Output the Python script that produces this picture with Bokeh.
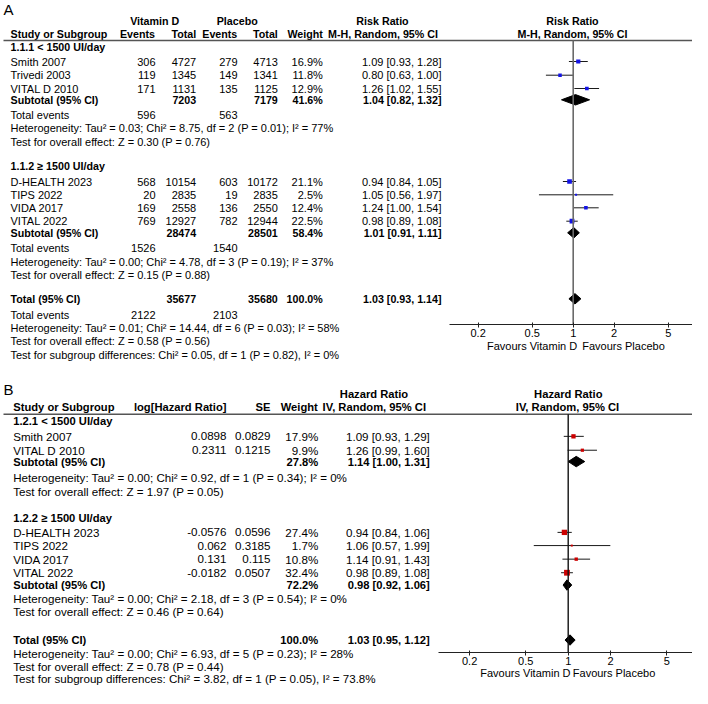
import numpy as np
from bokeh.plotting import figure
from bokeh.models import (Range1d, LogScale, LogAxis, FixedTicker,
                          NumeralTickFormatter, ColumnDataSource)
from bokeh.core.properties import value
from bokeh.embed import file_html
from bokeh.resources import INLINE

# ------------------------------------------------------------------ data A
a1_study = ["Smith 2007", "Trivedi 2003", "VITAL D 2010"]
a1_ev_vd = [306, 119, 171]
a1_tot_vd = [4727, 1345, 1131]
a1_ev_pl = [279, 149, 135]
a1_tot_pl = [4713, 1341, 1125]
a1_weight = [16.9, 11.8, 12.9]
a1_rr = [1.09, 0.80, 1.26]
a1_lo = [0.93, 0.63, 1.02]
a1_hi = [1.28, 1.00, 1.55]
a1_sub = dict(tot_vd=7203, tot_pl=7179, weight=41.6, rr=1.04, lo=0.82, hi=1.32,
              ev_vd=596, ev_pl=563)

a2_study = ["D-HEALTH 2023", "TIPS 2022", "VIDA 2017", "VITAL 2022"]
a2_ev_vd = [568, 20, 169, 769]
a2_tot_vd = [10154, 2835, 2558, 12927]
a2_ev_pl = [603, 19, 136, 782]
a2_tot_pl = [10172, 2835, 2550, 12944]
a2_weight = [21.1, 2.5, 12.4, 22.5]
a2_rr = [0.94, 1.05, 1.24, 0.98]
a2_lo = [0.84, 0.56, 1.00, 0.89]
a2_hi = [1.05, 1.97, 1.54, 1.08]
a2_sub = dict(tot_vd=28474, tot_pl=28501, weight=58.4, rr=1.01, lo=0.91, hi=1.11,
              ev_vd=1526, ev_pl=1540)

a_tot = dict(tot_vd=35677, tot_pl=35680, weight=100.0, rr=1.03, lo=0.93, hi=1.14,
             ev_vd=2122, ev_pl=2103)

a_stats = [
    "Heterogeneity: Tau\u00b2 = 0.03; Chi\u00b2 = 8.75, df = 2 (P = 0.01); I\u00b2 = 77%",
    "Test for overall effect: Z = 0.30 (P = 0.76)",
    "Heterogeneity: Tau\u00b2 = 0.00; Chi\u00b2 = 4.78, df = 3 (P = 0.19); I\u00b2 = 37%",
    "Test for overall effect: Z = 0.15 (P = 0.88)",
    "Heterogeneity: Tau\u00b2 = 0.01; Chi\u00b2 = 14.44, df = 6 (P = 0.03); I\u00b2 = 58%",
    "Test for overall effect: Z = 0.58 (P = 0.56)",
    "Test for subgroup differences: Chi\u00b2 = 0.05, df = 1 (P = 0.82), I\u00b2 = 0%",
]

# ------------------------------------------------------------------ data B
b1_study = ["Smith 2007", "VITAL D 2010"]
b1_loghr = ["0.0898", "0.2311"]
b1_se = ["0.0829", "0.1215"]
b1_weight = [17.9, 9.9]
b1_hr = [1.09, 1.26]
b1_lo = [0.93, 0.99]
b1_hi = [1.29, 1.60]
b1_sub = dict(weight=27.8, hr=1.14, lo=1.00, hi=1.31)

b2_study = ["D-HEALTH 2023", "TIPS 2022", "VIDA 2017", "VITAL 2022"]
b2_loghr = ["-0.0576", "0.062", "0.131", "-0.0182"]
b2_se = ["0.0596", "0.3185", "0.115", "0.0507"]
b2_weight = [27.4, 1.7, 10.8, 32.4]
b2_hr = [0.94, 1.06, 1.14, 0.98]
b2_lo = [0.84, 0.57, 0.91, 0.89]
b2_hi = [1.06, 1.99, 1.43, 1.08]
b2_sub = dict(weight=72.2, hr=0.98, lo=0.92, hi=1.06)

b_tot = dict(weight=100.0, hr=1.03, lo=0.95, hi=1.12)

b_stats = [
    "Heterogeneity: Tau\u00b2 = 0.00; Chi\u00b2 = 0.92, df = 1 (P = 0.34); I\u00b2 = 0%",
    "Test for overall effect: Z = 1.97 (P = 0.05)",
    "Heterogeneity: Tau\u00b2 = 0.00; Chi\u00b2 = 2.18, df = 3 (P = 0.54); I\u00b2 = 0%",
    "Test for overall effect: Z = 0.46 (P = 0.64)",
    "Heterogeneity: Tau\u00b2 = 0.00; Chi\u00b2 = 6.93, df = 5 (P = 0.23); I\u00b2 = 28%",
    "Test for overall effect: Z = 0.78 (P = 0.44)",
    "Test for subgroup differences: Chi\u00b2 = 3.82, df = 1 (P = 0.05), I\u00b2 = 73.8%",
]

axis_ticks = [0.2, 0.5, 1, 2, 5]
favours = ["Favours Vitamin D", "Favours Placebo"]

# ------------------------------------------------------------------ layout
FONT = "Liberation Sans"
INK = "#000000"
W, H = 692, 688
X0, X1 = 0, W

p = figure(width=W, height=H, x_range=Range1d(X0, X1), y_range=Range1d(H, 0),
           output_backend="svg", toolbar_location=None,
           x_axis_location=None, y_axis_location=None, min_border=0)
p.grid.visible = False
p.outline_line_color = None
p.background_fill_color = "white"

# log ranges for the two forest panels (pixel of 1, pixels per decade)
CA, PA = 572.7, 136.0
CB, PB = 567.7, 141.0
p.extra_x_ranges = {
    "fa": Range1d(10 ** ((X0 - CA) / PA), 10 ** ((X1 - CA) / PA)),
    "fb": Range1d(10 ** ((X0 - CB) / PB), 10 ** ((X1 - CB) / PB)),
}
p.extra_x_scales = {"fa": LogScale(), "fb": LogScale()}


def YB(y):
    # panel B is lifted and squeezed slightly so its last line stays on the page
    return 376 + (y - 380) * 0.97


def txt(xs, ys, texts, align="left", bold=False, size="11px"):
    src = ColumnDataSource(dict(x=list(xs), y=list(ys), text=[str(t) for t in texts]))
    p.text("x", "y", "text", source=src, text_align=align, text_baseline="middle",
           text_font=value(FONT), text_font_size=size,
           text_font_style="bold" if bold else "normal", text_color=INK)


def ci(est, lo, hi):
    return f"{est:.2f} [{lo:.2f}, {hi:.2f}]"


def forest(rng, ys, est, lo, hi, w, color):
    src = ColumnDataSource(dict(y=ys, est=est, lo=lo, hi=hi,
                                size=[max(2.0, 1.02 * np.sqrt(v)) for v in w]))
    p.segment(x0="lo", x1="hi", y0="y", y1="y", source=src, x_range_name=rng,
              line_color="#1a1a1a", line_width=1)
    p.scatter(x="est", y="y", size="size", marker="square", source=src,
              x_range_name=rng, fill_color=color, line_color=None)


def diamond(rng, y, d, key, h=5.2):
    p.patch(x=[d["lo"], d[key], d["hi"], d[key]], y=[y, y - h, y, y + h],
            x_range_name=rng, fill_color="black", line_color="black", line_width=1)


def faxis(rng, yloc, b0, b1, c, ppd):
    ax = LogAxis(x_range_name=rng, fixed_location=yloc,
                 bounds=(10 ** ((b0 - c) / ppd), 10 ** ((b1 - c) / ppd)),
                 ticker=FixedTicker(ticks=axis_ticks, minor_ticks=[]),
                 formatter=NumeralTickFormatter(format="0.[0]"))
    ax.axis_line_color = "#222222"
    ax.axis_line_width = 1.2
    ax.major_tick_line_color = "#222222"
    ax.major_tick_in = 2
    ax.major_tick_out = 3
    ax.minor_tick_line_color = None
    ax.major_label_standoff = 1
    ax.major_label_text_font = FONT
    ax.major_label_text_font_size = "11px"
    ax.major_label_text_color = INK
    p.add_layout(ax, "below")


# ================================================================= panel A
RA, BA, SA = "11px", "10.7px", "11px"
txt([3], [8.5], ["A"], size="15px")
txt([154.2, 236.7, 382.0, 572.0], [20] * 4,
    ["Vitamin D", "Placebo", "Risk Ratio", "Risk Ratio"], align="center", bold=True, size=BA)
txt([10], [33], ["Study or Subgroup"], bold=True, size=BA)
txt([154.5, 195.7, 236.8, 277.3, 322.3], [33] * 5,
    ["Events", "Total", "Events", "Total", "Weight"], align="right", bold=True, size=BA)
txt([382.5, 572.0], [33] * 2, ["M-H, Random, 95% CI"] * 2, align="center", bold=True, size=BA)
p.segment(x0=[3], x1=[705], y0=[40], y1=[40], line_color="#555555", line_width=1.5)

ya_g = [46.7, 165.7]
ya_s1 = [61.0, 74.7, 88.0]
ya_s2 = [181.0, 194.3, 207.3, 220.7]
ya_sub = [99.3, 232.3]
ya_ev = [114.7, 247.3, 314.0]
ya_st = [127.7, 141.0, 261.0, 274.3, 327.3, 340.7, 354.3]
ya_tot = 298.3
ya_axis = 324.3

txt([10, 10], ya_g, ["1.1.1 < 1500 UI/day", "1.1.2 \u2265 1500 UI/day"], bold=True, size=BA)
for ys, st, evv, tvd, evp, tpl, w, rr, lo, hi in [
        (ya_s1, a1_study, a1_ev_vd, a1_tot_vd, a1_ev_pl, a1_tot_pl, a1_weight, a1_rr, a1_lo, a1_hi),
        (ya_s2, a2_study, a2_ev_vd, a2_tot_vd, a2_ev_pl, a2_tot_pl, a2_weight, a2_rr, a2_lo, a2_hi)]:
    txt([10] * len(ys), ys, st, size=RA)
    txt([155] * len(ys), ys, evv, align="right", size=RA)
    txt([195.7] * len(ys), ys, tvd, align="right", size=RA)
    txt([237] * len(ys), ys, evp, align="right", size=RA)
    txt([277.3] * len(ys), ys, tpl, align="right", size=RA)
    txt([322.3] * len(ys), ys, [f"{v:.1f}%" for v in w], align="right", size=RA)
    txt([441] * len(ys), ys, [ci(a, b, c) for a, b, c in zip(rr, lo, hi)], align="right", size=RA)
    forest("fa", ys, rr, lo, hi, w, "#1414e6")

subs = [a1_sub, a2_sub, a_tot]
ysubs = ya_sub + [ya_tot]
txt([10] * 3, ysubs, ["Subtotal (95% CI)", "Subtotal (95% CI)", "Total (95% CI)"], bold=True, size=BA)
txt([195.7] * 3, ysubs, [d["tot_vd"] for d in subs], align="right", bold=True, size=BA)
txt([277.3] * 3, ysubs, [d["tot_pl"] for d in subs], align="right", bold=True, size=BA)
txt([322.3] * 3, ysubs, [f"{d['weight']:.1f}%" for d in subs], align="right", bold=True, size=BA)
txt([441] * 3, ysubs, [ci(d["rr"], d["lo"], d["hi"]) for d in subs], align="right", bold=True, size=BA)
for d, y in zip(subs, ysubs):
    diamond("fa", y, d, "rr")
txt([10] * 3, ya_ev, ["Total events"] * 3, size=RA)
txt([155] * 3, ya_ev, [d["ev_vd"] for d in subs], align="right", size=RA)
txt([237] * 3, ya_ev, [d["ev_pl"] for d in subs], align="right", size=RA)
txt([10] * len(ya_st), ya_st, a_stats, size=SA)

p.segment(x0=[1], x1=[1], y0=[40], y1=[ya_axis], x_range_name="fa",
          line_color="#6a6a6a", line_width=1.6)
faxis("fa", ya_axis, 449, 696, CA, PA)
txt([576.7], [345], [favours[0]], align="right", size=SA)
txt([581.7], [345], [favours[1]], align="left", size=SA)

# ================================================================= panel B
RB, BB, SB = "11.6px", "11.2px", "11.6px"
txt([3], [YB(393.5)], ["B"], size="15px")
txt([373.5, 567.8], [YB(397.7)] * 2, ["Hazard Ratio"] * 2, align="center", bold=True, size=BB)
txt([12.7], [YB(411.7)], ["Study or Subgroup"], bold=True, size=BB)
txt([226, 270, 317.3], [YB(411.7)] * 3, ["log[Hazard Ratio]", "SE", "Weight"],
    align="right", bold=True, size=BB)
txt([373.8, 567.0], [YB(411.7)] * 2, ["IV, Random, 95% CI"] * 2, align="center", bold=True, size=BB)
p.segment(x0=[3], x1=[705], y0=[YB(419)], y1=[YB(419)], line_color="#555555", line_width=1.5)

yb_g = [YB(v) for v in [426.0, 526.0]]
yb_s1 = [YB(v) for v in [441.7, 456.0]]
yb_s2 = [YB(v) for v in [540.7, 554.3, 568.3, 582.3]]
yb_sub = [YB(v) for v in [467.7, 595.0]]
yb_st = [YB(v) for v in [484.3, 498.3, 609.3, 622.7, 665.3, 678.6, 691.6]]
yb_tot = YB(651.7)
yb_axis = YB(665.0)

txt([12.7, 12.7], yb_g, ["1.2.1 < 1500 UI/day", "1.2.2 \u2265 1500 UI/day"], bold=True, size=BB)
for ys, st, lg, se, w, hr, lo, hi in [
        (yb_s1, b1_study, b1_loghr, b1_se, b1_weight, b1_hr, b1_lo, b1_hi),
        (yb_s2, b2_study, b2_loghr, b2_se, b2_weight, b2_hr, b2_lo, b2_hi)]:
    txt([12.7] * len(ys), ys, st, size=RB)
    txt([226] * len(ys), ys, lg, align="right", size=RB)
    txt([270] * len(ys), ys, se, align="right", size=RB)
    txt([317.7] * len(ys), ys, [f"{v:.1f}%" for v in w], align="right", size=RB)
    txt([429.3] * len(ys), ys, [ci(a, b, c) for a, b, c in zip(hr, lo, hi)], align="right", size=RB)
    forest("fb", ys, hr, lo, hi, w, "#cc0000")

bsubs = [b1_sub, b2_sub, b_tot]
ybsubs = yb_sub + [yb_tot]
txt([12.7] * 3, ybsubs, ["Subtotal (95% CI)", "Subtotal (95% CI)", "Total (95% CI)"], bold=True, size=BB)
txt([317.7] * 3, ybsubs, [f"{d['weight']:.1f}%" for d in bsubs], align="right", bold=True, size=BB)
txt([429.3] * 3, ybsubs, [ci(d["hr"], d["lo"], d["hi"]) for d in bsubs], align="right", bold=True, size=BB)
for d, y in zip(bsubs, ybsubs):
    diamond("fb", y, d, "hr")
txt([12.7] * len(yb_st), yb_st, b_stats, size=SB)

p.segment(x0=[1], x1=[1], y0=[YB(419)], y1=[yb_axis], x_range_name="fb",
          line_color="#111111", line_width=1.4)
faxis("fb", yb_axis, 438.3, 696, CB, PB)
txt([570.0], [YB(686)], [favours[0]], align="right", size=SA)
txt([572.3], [YB(686)], [favours[1]], align="left", size=SA)

open("out.html", "w").write(file_html(p, INLINE))
